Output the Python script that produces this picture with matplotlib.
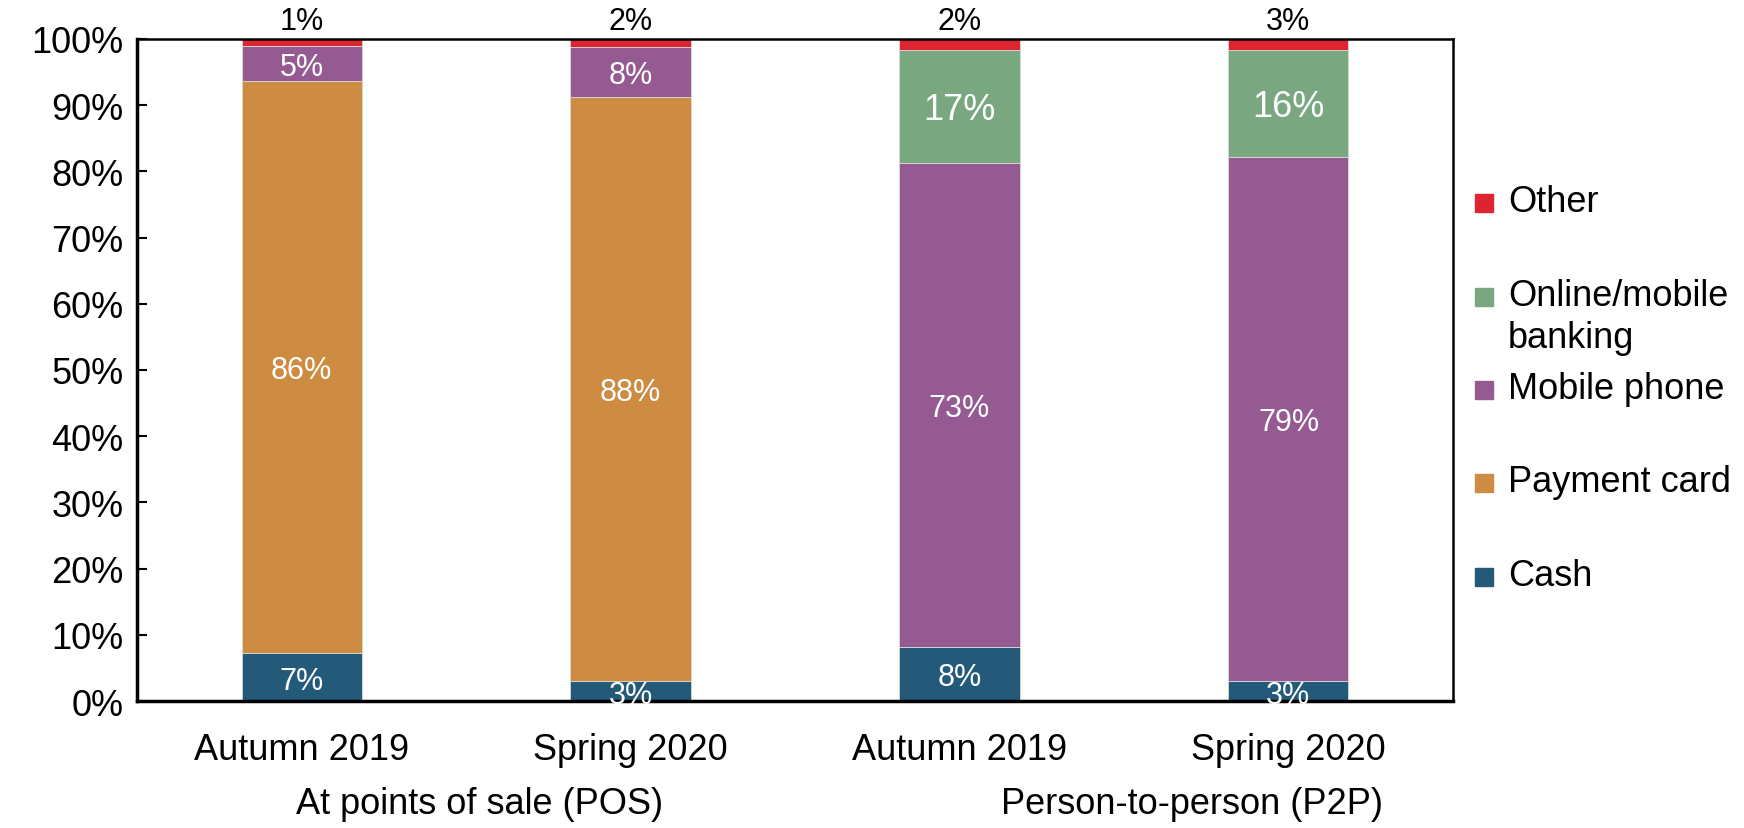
import numpy as np
import matplotlib
matplotlib.use('Agg')
import matplotlib.pyplot as plt
from matplotlib.patches import Rectangle

plt.rcParams['font.family'] = ['Liberation Sans', 'DejaVu Sans']

# Bars: POS autumn 2019, POS spring 2020, P2P autumn 2019, P2P spring 2020
bar_labels = ['Autumn 2019', 'Spring 2020', 'Autumn 2019', 'Spring 2020']
groups = ['At points of sale (POS)', 'Person-to-person (P2P)']

series = ['Cash', 'Payment card', 'Mobile phone', 'Online/mobile\nbanking', 'Other']
colors = ['#235A79', '#CE8B42', '#965A93', '#79A77F', '#DE2430']

# segment heights as drawn (share of 100%)
cash = [7.2, 3.0, 8.2, 3.0]
card = [86.5, 88.2, 0.0, 0.0]
mobile = [5.2, 7.6, 73.0, 79.2]
online = [0.0, 0.0, 17.1, 16.1]
other = [1.1, 1.2, 1.7, 1.7]

# value labels as printed on the chart
cash_lbl = ['7%', '3%', '8%', '3%']
card_lbl = ['86%', '88%', '', '']
mobile_lbl = ['5%', '8%', '73%', '79%']
online_lbl = ['', '', '17%', '16%']
other_lbl = ['1%', '2%', '2%', '3%']

data = [cash, card, mobile, online, other]
labels = [cash_lbl, card_lbl, mobile_lbl, online_lbl, other_lbl]

fig = plt.figure(figsize=(17.44, 8.29), dpi=100)
ax = fig.add_axes([0.0786, 0.153, 0.7545, 0.799])

x = np.arange(len(bar_labels))
width = 0.365
bottom = np.zeros(len(x))
for i, (vals, col) in enumerate(zip(data, colors)):
    vals = np.array(vals)
    ax.bar(x, vals, width, bottom=bottom, color=col, edgecolor='#d9d9d9', linewidth=0.6)
    for j in range(len(x)):
        txt = labels[i][j]
        if not txt:
            continue
        if i == 4:
            ax.text(x[j], 100 + 0.4, txt, ha='center', va='bottom', fontsize=22, color='black')
        else:
            fs = 26 if i == 3 else 22
            ax.text(x[j], bottom[j] + vals[j] / 2 - 0.5, txt, ha='center', va='center',
                    fontsize=fs, color='white')
    bottom += vals

ax.set_xlim(-0.5, 3.5)
ax.set_ylim(0, 100)
ax.set_yticks(np.arange(0, 101, 10))
ax.set_yticklabels([f'{v}%' for v in range(0, 101, 10)], fontsize=26)
ax.tick_params(axis='y', direction='in', length=7, width=1.5, pad=10)
ax.set_xticks(x)
ax.set_xticklabels(bar_labels, fontsize=26)
ax.tick_params(axis='x', length=0, pad=22)
for side in ['left', 'bottom']:
    ax.spines[side].set_linewidth(2.5)
for side in ['top', 'right']:
    ax.spines[side].set_linewidth(1.8)

# group labels under the tick labels
ax.text(0.54, -0.154, groups[0], transform=ax.get_xaxis_transform(),
        ha='center', va='center', fontsize=26)
ax.text(2.706, -0.154, groups[1], transform=ax.get_xaxis_transform(),
        ha='center', va='center', fontsize=26)

# legend drawn by hand, top entry first
leg_y = [0.754, 0.640, 0.528, 0.416, 0.303]
sq = 18
for k, idx in enumerate([4, 3, 2, 1, 0]):
    yc = leg_y[k]
    fig.patches.append(Rectangle((1475 / 1744, yc - sq / 2 / 829), sq / 1744, sq / 829,
                                 transform=fig.transFigure, color=colors[idx]))
    fig.text(1508 / 1744, yc + 19 / 829, series[idx], ha='left', va='top', fontsize=26,
             linespacing=1.25)

fig.savefig('out.png', dpi=100)
